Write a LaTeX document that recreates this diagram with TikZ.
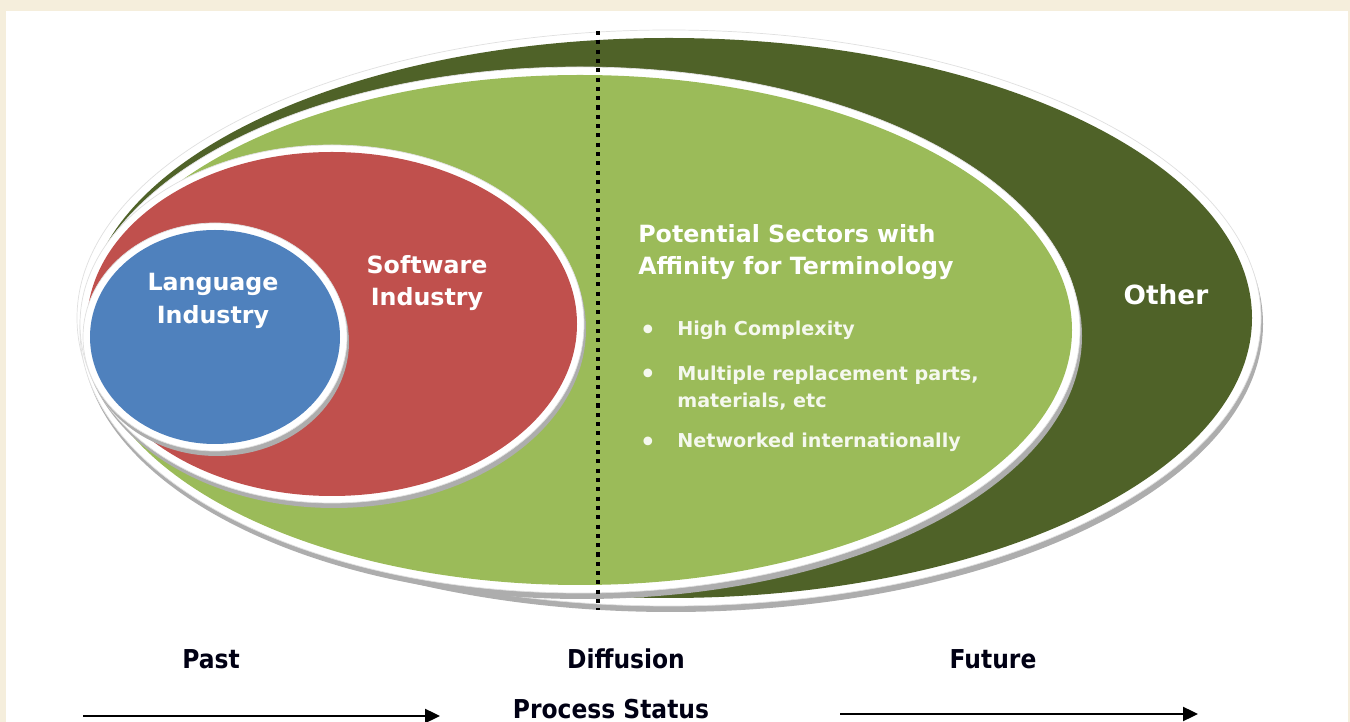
\documentclass[tikz,border=0pt]{standalone}
\usepackage{fontspec}
\setmainfont{DejaVu Sans}
\newfontfamily\narrowfont{DejaVu Sans}[FakeStretch=0.9]
\usepackage{tikz}
\usetikzlibrary{shapes,arrows.meta,positioning}

\definecolor{OtherGreen}{RGB}{79,98,40}
\definecolor{SectorGreen}{RGB}{155,187,89}
\definecolor{SoftRed}{RGB}{192,80,77}
\definecolor{LangBlue}{RGB}{79,129,189}
\definecolor{Frame}{RGB}{245,238,220}

\begin{document}
\begin{tikzpicture}[x=0.02cm, y=-0.02cm]
			\tikzstyle{Shadow}	= [fill=black!32]
			\tikzstyle{Rim}		= [fill=white, draw=black!12, line width=0.4pt]
			\tikzstyle{Inner}	= [text=white, font=\fontsize{13.5}{18.6}\selectfont\bfseries, align=center]
			\tikzstyle{Item}	= [text=white!90!SectorGreen, font=\fontsize{10.9}{15.4}\selectfont\bfseries, align=left, anchor=west, inner sep=0pt]
			\tikzstyle{Bullet}	= [text=white!90!SectorGreen, font=\fontsize{17}{17}\selectfont, inner sep=0pt]
			\tikzstyle{Stage}	= [text=black!92!blue, font=\narrowfont\fontsize{14.8}{17}\selectfont\bfseries]
			\tikzstyle{Flow}	= [line width=1.1pt, -{Triangle[length=8.5pt, width=8pt]}]
			\tikzstyle{Dots}	= [line width=2.3pt, dash pattern=on 2.3pt off 3pt]
			
			\useasboundingbox (0,0) rectangle (1350,722);
			\fill[Frame] (0,0) rectangle (1350,722);
			\fill[white] (6,11) rectangle (1348,722);
			
			% outer ring: other
			\fill[Shadow] (671,324) ellipse [x radius=592, y radius=288];
			\filldraw[Rim] (669,318) ellipse [x radius=592, y radius=288];
			\fill[OtherGreen] (669,318) ellipse [x radius=583, y radius=280];
			
			% potential sectors
			\fill[Shadow] (582,336) ellipse [x radius=500, y radius=263];
			\filldraw[Rim] (580,330) ellipse [x radius=500, y radius=263];
			\fill[SectorGreen] (580,330) ellipse [x radius=492, y radius=255];
			
			% software industry
			\fill[Shadow] (334,329) ellipse [x radius=252, y radius=179];
			\filldraw[Rim] (332,324) ellipse [x radius=252, y radius=179];
			\fill[SoftRed] (332,324) ellipse [x radius=245, y radius=172];
			
			% language industry
			\fill[Shadow] (217,342) ellipse [x radius=132, y radius=114];
			\filldraw[Rim] (215,337) ellipse [x radius=132, y radius=114];
			\fill[LangBlue] (215,337) ellipse [x radius=125, y radius=107];
			
			\coordinate (dtop) at (598,31);
			\coordinate (dbot) at (598,610);
			\draw[Dots] (dtop) -- (dbot);
			
			\node (lang) at (213,301) [Inner] {Language\\Industry};
			\node (soft) at (427,283) [Inner] {Software\\Industry};
			\node (other) at (1166,295) [Inner, font=\fontsize{15}{18}\selectfont\bfseries] {Other};
			\node (sect) at (638,252) [Inner, anchor=west, align=left, inner sep=0pt, font=\fontsize{13.5}{18.2}\selectfont\bfseries] {Potential Sectors with\\Affinity for Terminology};
			
			\node (hc) at (677,330) [Item] {High Complexity};
			\node (mr) at (677,388) [Item] {Multiple replacement parts,\\materials, etc};
			\node (ni) at (677,442) [Item] {Networked internationally};
			\node (b1) at (648,333) [Bullet] {•};
			\node (b2) at (648,377) [Bullet] {•};
			\node (b3) at (648,445) [Bullet] {•};
			
			\node (past) at (211,659) [Stage] {Past};
			\node (diff) at (626,659) [Stage] {Diffusion};
			\node (fut) at (993,659) [Stage] {Future};
			\node (proc) at (611,709) [Stage] {Process Status};
			
			\coordinate (pastStart) at (83,716);
			\coordinate (pastEnd) at (440,716);
			\coordinate (futStart) at (840,714);
			\coordinate (futEnd) at (1198,714);
			\draw[Flow] (pastStart) -- (pastEnd);
			\draw[Flow] (futStart) -- (futEnd);
		\end{tikzpicture}
\end{document}
